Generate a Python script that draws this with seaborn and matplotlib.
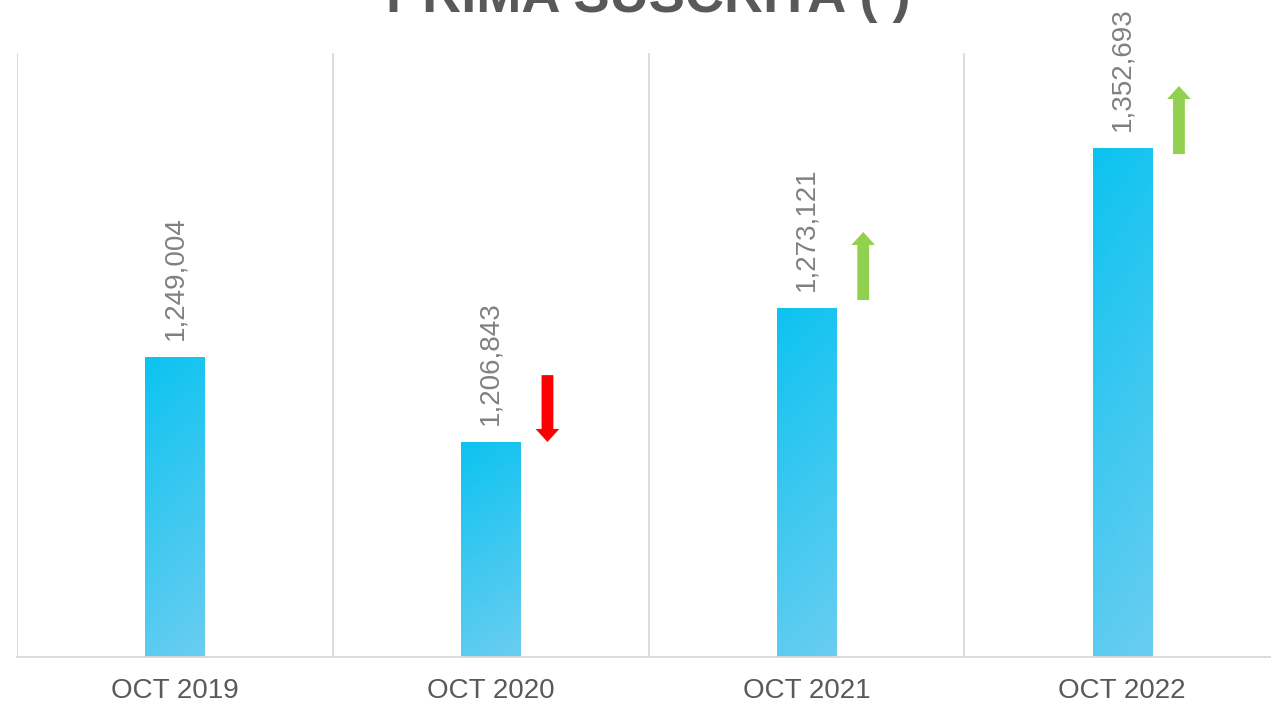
import matplotlib
matplotlib.use("Agg")
import matplotlib.pyplot as plt
import seaborn as sns
import numpy as np
from matplotlib.colors import LinearSegmentedColormap

# data
periods = ["OCT 2019", "OCT 2020", "OCT 2021", "OCT 2022"]
primas = [1249004, 1206843, 1273121, 1352693]
title = "PRIMA SUSCRITA ( )"

# change arrows (start, end) next to periods 2020-2022
arrow_from = [1240000, 1277300, 1349800]
arrow_to = [1206800, 1311100, 1383600]

sns.set_style("white")
plt.rcParams["font.family"] = ["Liberation Sans", "DejaVu Sans"]

fig = plt.figure(figsize=(12.71, 7.05), dpi=100)
ax = fig.add_axes([17 / 1271, 48 / 705, 1263 / 1271, 604 / 705])

sns.barplot(x=periods, y=primas, color="#2ec4ef", width=0.187, ax=ax)

ymin, ymax = 1100000, 1400000

# gradient fill for bars
cmap = LinearSegmentedColormap.from_list("bar", ["#0cc3f0", "#3cc8f0", "#6acdf0"])
grad = np.linspace(0, 1, 256).reshape(-1, 1) * 0.85 + np.linspace(0, 1, 32).reshape(1, -1) * 0.15
for p in ax.patches:
    x0 = p.get_x()
    w = p.get_width()
    h = p.get_height()
    p.set_facecolor("none")
    im = ax.imshow(grad, cmap=cmap, aspect="auto", origin="upper",
                   extent=[x0, x0 + w, ymin, h], zorder=2)
    im.set_clip_path(p)
ax.set_xlim(-0.5, 3.5)
ax.set_ylim(ymin, ymax)

# value labels
for i, v in enumerate(primas):
    ax.annotate(f"{v:,}", (i, v), xytext=(0, 12.5), textcoords="offset points",
                rotation=90, ha="center", va="bottom", fontsize=20, color="#808080")

# change arrows
for i in range(1, len(primas)):
    col = "#ff0000" if primas[i] < primas[i - 1] else "#92d050"
    xa = i + 0.18
    ax.annotate("", xy=(xa, arrow_to[i - 1]), xytext=(xa, arrow_from[i - 1]),
                arrowprops=dict(arrowstyle="simple,head_length=0.55,head_width=1.0,tail_width=0.5",
                                mutation_scale=17, color=col, shrinkA=0, shrinkB=0, lw=0))

# category separators
for b in np.arange(-0.5, 4.0, 1.0):
    ax.axvline(b, color="#d9d9d9", lw=1.3, zorder=0)

for s in ["top", "right", "left"]:
    ax.spines[s].set_visible(False)
ax.spines["bottom"].set_color("#d9d9d9")
ax.spines["bottom"].set_linewidth(1.3)
ax.set_yticks([])
ax.set_xlabel("")
ax.set_ylabel("")
ax.tick_params(axis="x", length=0, pad=15, labelsize=20, labelcolor="#595959")

fig.text(648 / 1271, (705 - 12) / 705, title, ha="center", va="baseline",
         fontsize=39, fontweight="bold", color="#595959")

fig.savefig("out.png", dpi=100)
